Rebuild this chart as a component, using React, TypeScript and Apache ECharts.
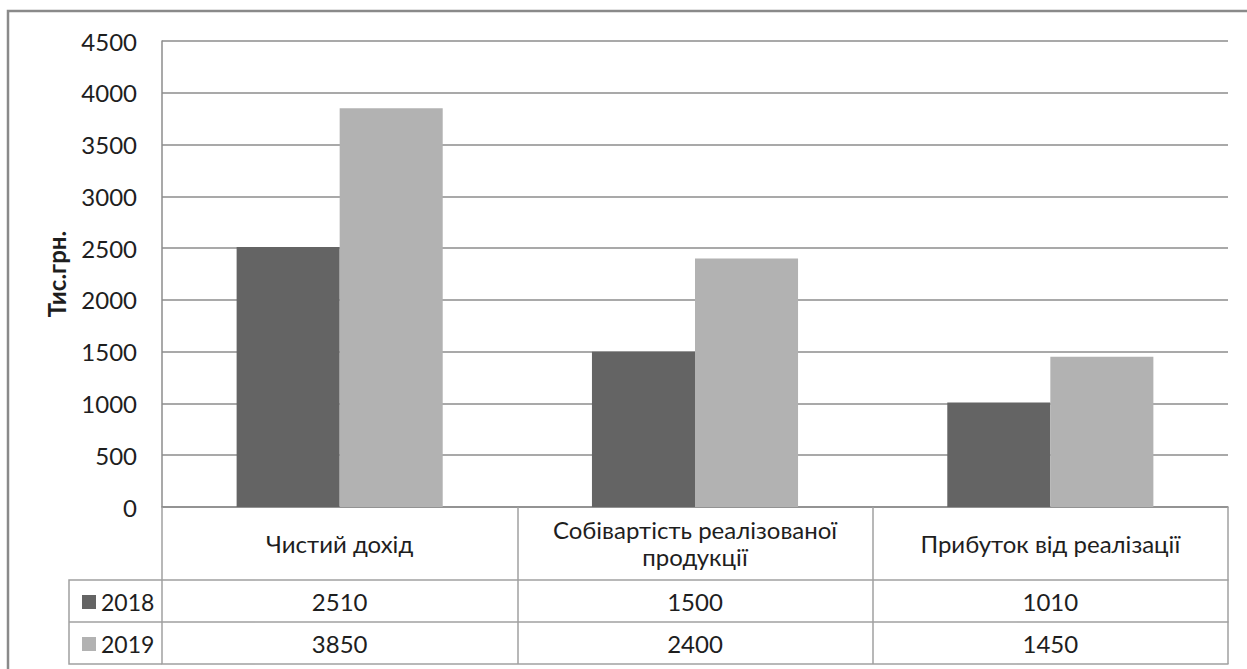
import React, { useEffect, useRef } from "react";
import * as echarts from "echarts";

const categories = ["Чистий дохід", "Собівартість реалізованої\nпродукції", "Прибуток від реалізації"];
const seriesNames = ["2018", "2019"];
const values2018 = [2510, 1500, 1010];
const values2019 = [3850, 2400, 1450];
const yTicks = { min: 0, max: 4500, interval: 500 };
const yTitle = "Тис.грн.";

const FONT = "Lato";
const TEXT = "#1e1e1e";
const LINE = "#8c8c8c";
const TABLE = "#a0a0a0";
const FS = 24;

export default function App() {
  const ref = useRef<HTMLDivElement>(null);
  useEffect(() => {
    if (!ref.current) return;
    const chart = echarts.init(ref.current, null, { renderer: "svg" });
    const gridLeft = 162, gridTop = 41, gridRight = 1228, gridBottom = 507;
    const rowCat = 73, row1 = 42, row2 = 42;
    const baseAxis = {
      type: "category" as const,
      data: categories,
      position: "bottom" as const,
      axisLine: { show: true, lineStyle: { color: TABLE, width: 1.5 } },
      axisTick: { show: false },
      splitLine: { show: false },
    };
    chart.setOption({
      animation: false,
      textStyle: { fontFamily: FONT },
      grid: { left: gridLeft, top: gridTop, right: 1247 - gridRight, bottom: 669 - gridBottom },
      legend: {
        data: seriesNames,
        orient: "vertical",
        left: 77,
        top: 584,
        itemWidth: 14,
        itemHeight: 14,
        itemGap: 16,
        icon: "rect",
        textStyle: { fontSize: FS - 1, lineHeight: 20, color: TEXT, fontFamily: FONT, padding: [0, 0, 6, 0] },
      },
      xAxis: [
        {
          ...baseAxis,
          axisLine: { show: true, lineStyle: { color: LINE, width: 1.5 } },
          axisTick: { show: true, length: rowCat + row1 + row2, lineStyle: { color: TABLE, width: 1.5 } },
          axisLabel: {
            fontSize: FS,
            color: TEXT,
            fontFamily: FONT,
            margin: 36,
            verticalAlign: "middle",
            lineHeight: 27,
            interval: 0,
          },
        },
        {
          ...baseAxis,
          offset: rowCat,
          axisLabel: {
            fontSize: FS,
            color: TEXT,
            fontFamily: FONT,
            margin: 21,
            verticalAlign: "middle",
            interval: 0,
            formatter: (_v: string, i: number) => String(values2018[i]),
          },
        },
        {
          ...baseAxis,
          offset: rowCat + row1,
          axisLabel: {
            fontSize: FS,
            color: TEXT,
            fontFamily: FONT,
            margin: 21,
            verticalAlign: "middle",
            interval: 0,
            formatter: (_v: string, i: number) => String(values2019[i]),
          },
        },
        {
          ...baseAxis,
          offset: rowCat + row1 + row2,
          axisLabel: { show: false },
        },
      ],
      yAxis: {
        type: "value",
        min: yTicks.min,
        max: yTicks.max,
        interval: yTicks.interval,
        name: yTitle,
        nameLocation: "middle",
        nameRotate: 90,
        nameGap: 94,
        nameTextStyle: { fontSize: 24, fontWeight: "bold", color: TEXT, fontFamily: FONT },
        axisLine: { show: true, lineStyle: { color: LINE, width: 1.5 } },
        axisTick: { show: false },
        splitLine: { show: true, lineStyle: { color: LINE, width: 1.5 } },
        axisLabel: { fontSize: FS, color: TEXT, fontFamily: FONT, margin: 25, formatter: (v: number) => String(v) },
      },
      series: [
        {
          name: seriesNames[0],
          type: "bar",
          data: values2018,
          itemStyle: { color: "#646464" },
          barGap: "0%",
          barCategoryGap: "42%",
        },
        {
          name: seriesNames[1],
          type: "bar",
          data: values2019,
          itemStyle: { color: "#b2b2b2" },
          barGap: "0%",
          barCategoryGap: "42%",
        },
      ],
      graphic: [
        {
          type: "rect",
          shape: { x: 8, y: 11, width: 1260, height: 700 },
          style: { fill: "none", stroke: "#8a8a8a", lineWidth: 2.5 },
          silent: true,
        },
        {
          type: "polyline",
          shape: {
            points: [
              [gridLeft, gridBottom + rowCat],
              [69, gridBottom + rowCat],
              [69, gridBottom + rowCat + row1 + row2],
              [gridLeft, gridBottom + rowCat + row1 + row2],
            ],
          },
          style: { fill: "none", stroke: TABLE, lineWidth: 1.5 },
          silent: true,
        },
        {
          type: "line",
          shape: { x1: 69, y1: gridBottom + rowCat + row1, x2: gridLeft, y2: gridBottom + rowCat + row1 },
          style: { stroke: TABLE, lineWidth: 1.5 },
          silent: true,
        },
      ],
    });
    return () => chart.dispose();
  }, []);
  return (
    <div
      ref={ref}
      style={{ position: "absolute", left: 0, top: 0, width: 1247, height: 669, background: "#fff" }}
    />
  );
}
